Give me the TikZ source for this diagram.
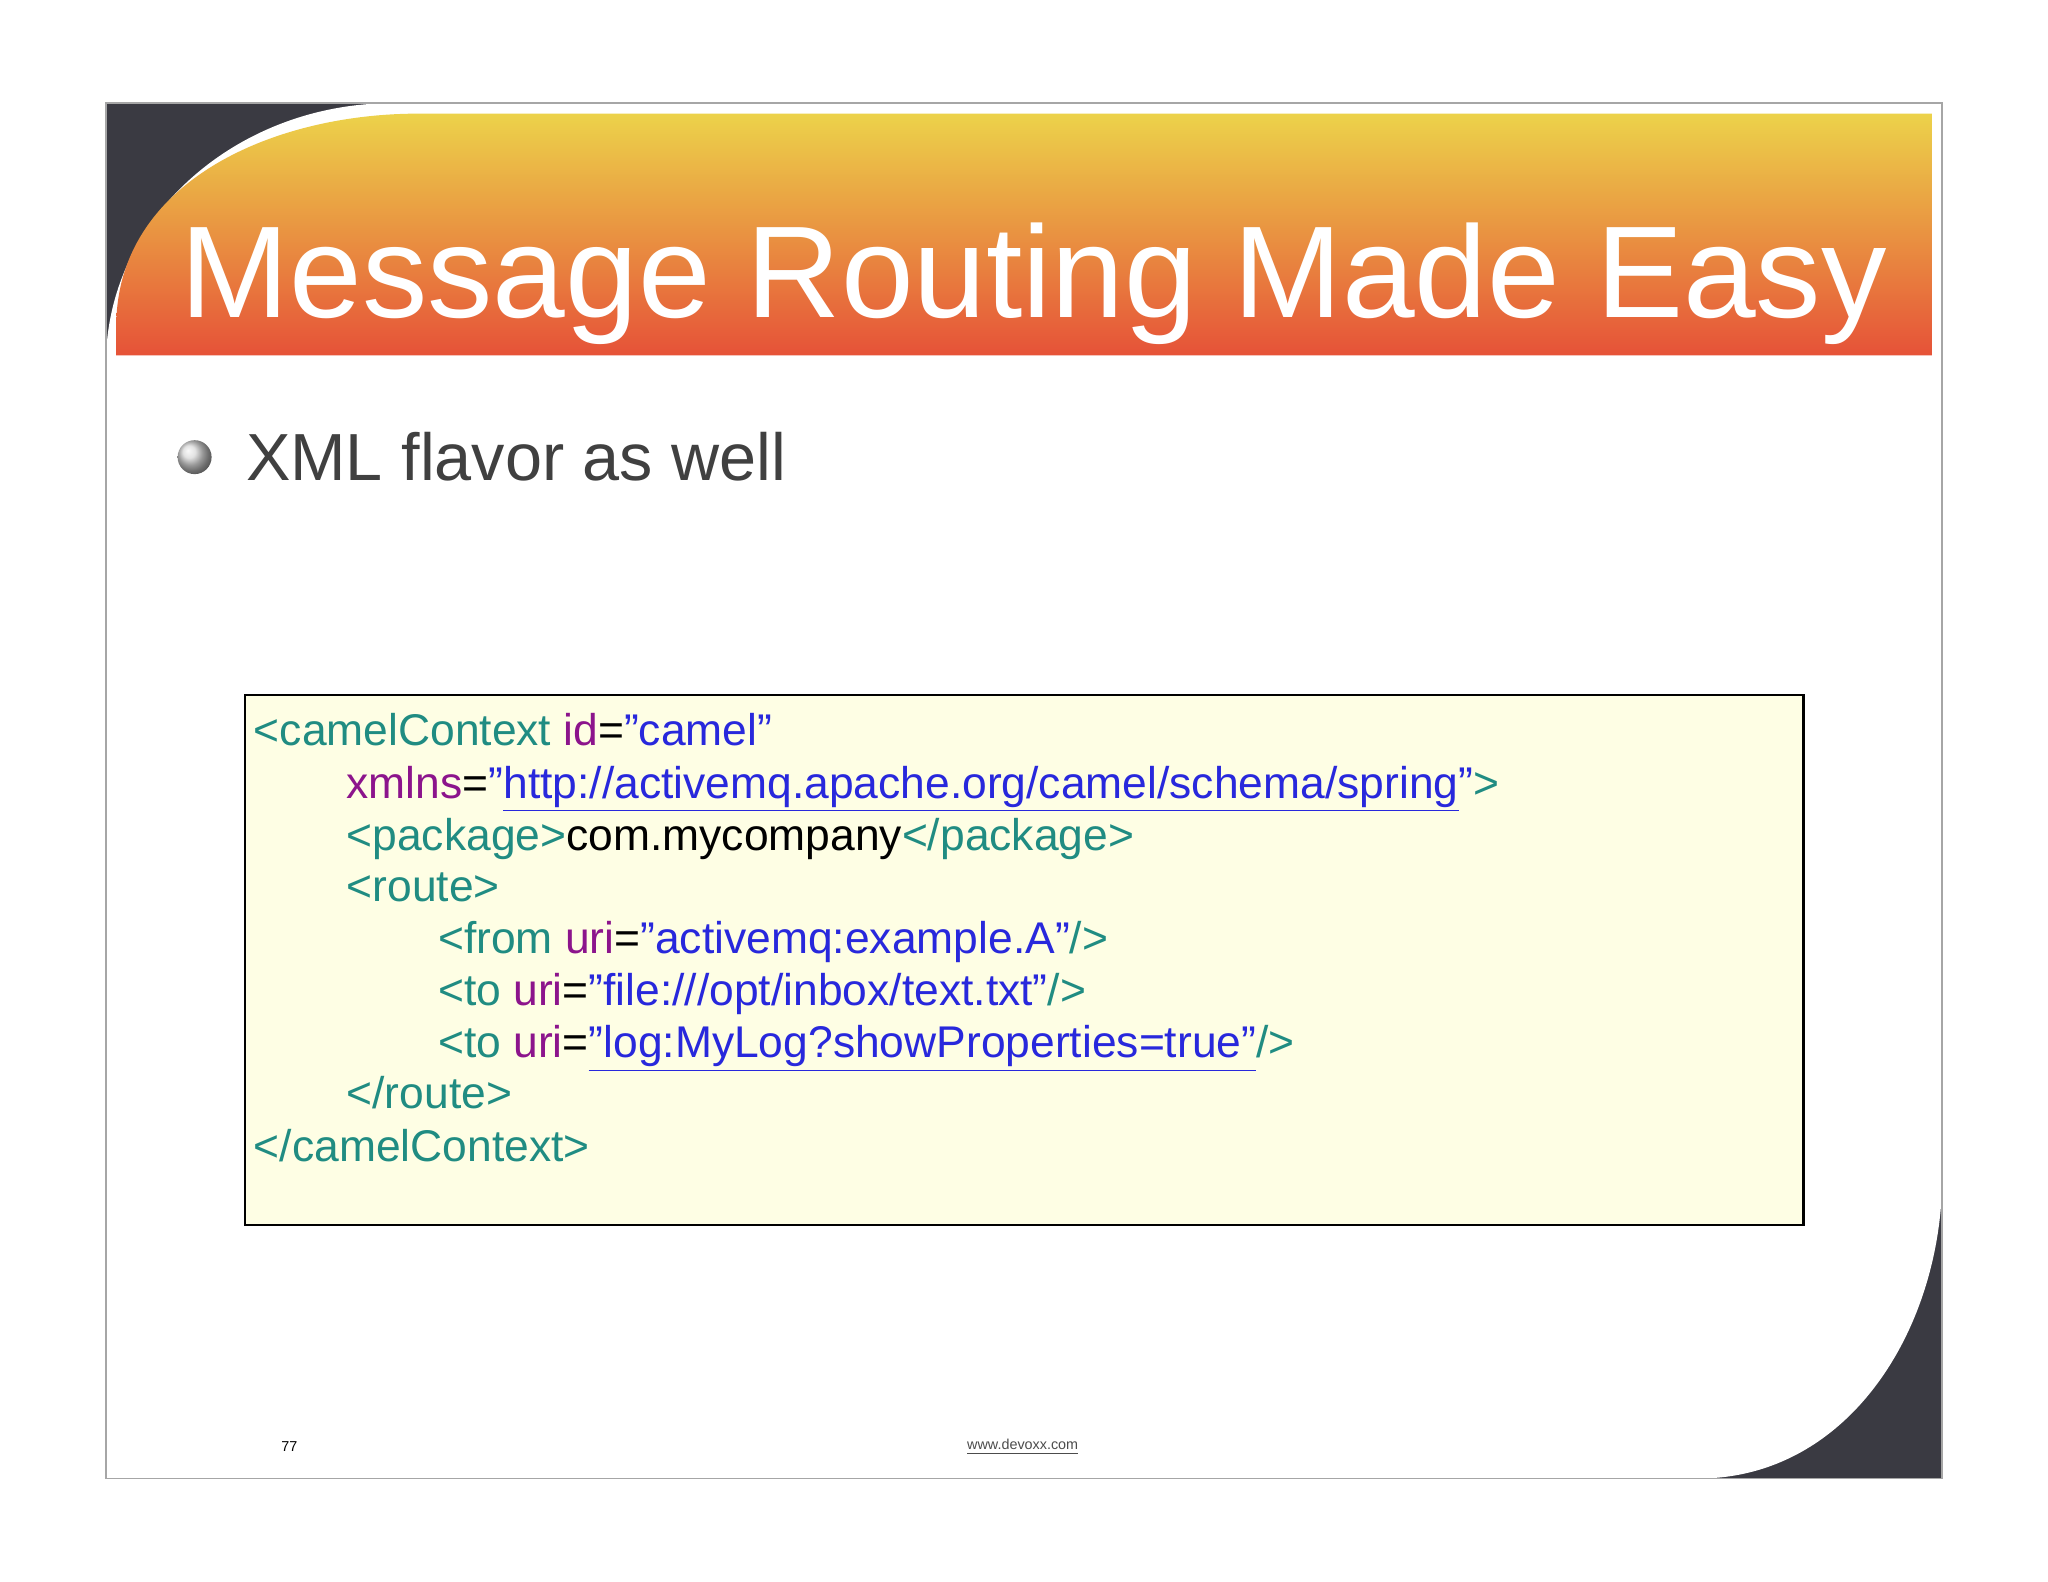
\documentclass[tikz,border=0pt]{standalone}
\usepackage{fontspec}
\setmainfont{Liberation Sans}
\usetikzlibrary{calc}
\definecolor{tagc}{RGB}{32,140,130}
\definecolor{attc}{RGB}{140,20,140}
\definecolor{valc}{RGB}{40,40,220}
\definecolor{darkc}{RGB}{58,58,66}
\definecolor{boxc}{RGB}{254,254,228}
\definecolor{topc}{RGB}{236,210,74}
\definecolor{botc}{RGB}{230,82,56}
\newcommand{\tg}[1]{\textcolor{tagc}{#1}}
\newcommand{\at}[1]{\textcolor{attc}{#1}}
\newcommand{\vl}[1]{\textcolor{valc}{#1}}
\begin{document}
\begin{tikzpicture}[x=0.5pt,y=-0.5pt,
  codeline/.style={anchor=base west,inner sep=0,font=\fontsize{17}{20}\selectfont}]
\useasboundingbox (0,0) rectangle (1568,1211);
\fill[white] (0,0) rectangle (1568,1211);
% dark corners
\fill[darkc] (81,79) rectangle (420,420);
\fill[darkc] (1100,800) rectangle (1487,1132);
% white slide area
\fill[white] (81,400) -- (81,280) to[out=90,in=180] (300,79) -- (1487,79) -- (1487,900) to[out=-90,in=0] (1300,1132) -- (81,1132) -- cycle;
\draw[gray!70,line width=0.6pt] (81,79) rectangle (1487,1132);
% banner
\shade[top color=topc,bottom color=botc] (89,272) -- (89,250) to[out=90,in=180] (320,87) -- (1479,87) -- (1479,272) -- cycle;
\node (title) [anchor=base west,inner sep=0,text=white,font=\fontsize{50}{60}\selectfont] at (138,243) {Message Routing Made Easy};
% bullet
\shade[ball color=gray!30] (149,350) circle (13);
\node (bul) [anchor=base west,inner sep=0,text=black!75,font=\fontsize{25.5}{30}\selectfont] at (188,368) {XML flavor as well};
% code box
\node (box) [draw=black,fill=boxc,line width=0.8pt,minimum width=596.5pt,minimum height=203pt,anchor=north west,inner sep=0] at (187,531) {};
\node (l1) [codeline] at (194,571) {\tg{<camelContext }\at{id}=\vl{"camel"}};
\node (l2) [codeline] at (265,611) {\at{xmlns}=\vl{"\underline{http://activemq.apache.org/camel/schema/spring}"}\tg{>}};
\node (l3) [codeline] at (265,651) {\tg{<package>}com.mycompany\tg{</package>}};
\node (l4) [codeline] at (265,690) {\tg{<route>}};
\node (l5) [codeline] at (335,730) {\tg{<from }\at{uri}=\vl{"activemq:example.A"}\tg{ />}};
\node (l6) [codeline] at (335,770) {\tg{<to }\at{uri}=\vl{"file:///opt/inbox/text.txt"}\tg{ />}};
\node (l7) [codeline] at (335,810) {\tg{<to }\at{uri}=\vl{\underline{”log:MyLog?showProperties=true”}}\tg{ />}};
\node (l8) [codeline] at (265,849) {\tg{</route>}};
\node (l9) [codeline] at (194,889) {\tg{</camelContext>}};
% footer
\node (num) [anchor=base west,inner sep=0,font=\fontsize{5.5}{6}\selectfont] at (215,1111) {77};
\node (url) [anchor=base,inner sep=0,text=black!70,font=\fontsize{5.5}{6}\selectfont] at (783,1110) {\underline{www.devoxx.com}};
\end{tikzpicture}
\end{document}
